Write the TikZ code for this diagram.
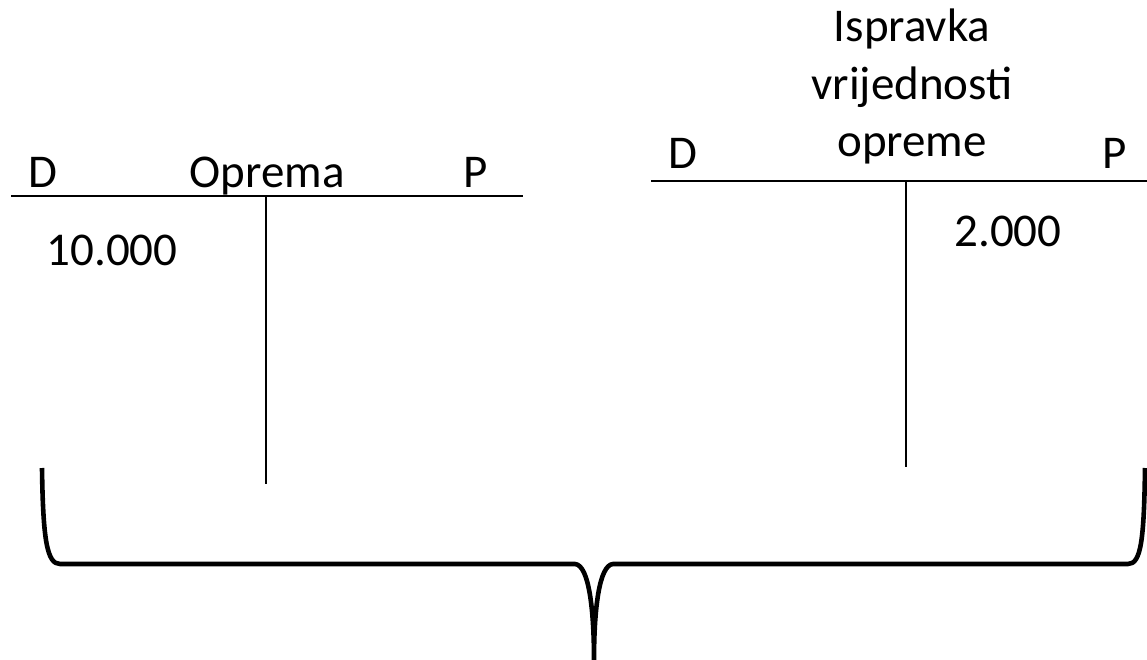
\documentclass[tikz,border=0pt]{standalone}
\usepackage{fontspec}
\setmainfont{Carlito}
\begin{document}
\begin{tikzpicture}[x=1pt,y=-1pt,
  lbl/.style={inner sep=0pt,anchor=base,font=\fontsize{47}{57.5}\selectfont},
  tline/.style={line width=2.2pt},
  brace/.style={line width=4.6pt,line join=round}]
\useasboundingbox (0,0) rectangle (1147,660);
% left T-account
\coordinate (lA) at (11,196);
\coordinate (lB) at (523,196);
\coordinate (lC) at (266,196);
\coordinate (lE) at (266,484);
\draw[tline] (lA) -- (lB);
\draw[tline] (lC) -- (lE);
\node[lbl] (lD) at (43,188) {D};
\node[lbl] (lT) at (267,188) {Oprema};
\node[lbl] (lP) at (476,188) {P};
\node[lbl] (lV) at (112,265) {10.000};
% right T-account
\coordinate (rA) at (651,181);
\coordinate (rB) at (1147,181);
\coordinate (rC) at (906,181);
\coordinate (rE) at (906,467);
\draw[tline] (rA) -- (rB);
\draw[tline] (rC) -- (rE);
\node[lbl] (rD) at (683,169) {D};
\node[lbl,align=center] (rT) at (912,157) {Ispravka\\vrijednosti\\opreme};
\node[lbl] (rP) at (1115,169) {P};
\node[lbl] (rV) at (1008,247) {2.000};
% brace
\draw[brace] (42,468) .. controls (43,540) and (47,564) .. (60,564)
  -- (575,564) .. controls (589,565) and (594,610) .. (594,660)
  .. controls (594,610) and (599,565) .. (613,564)
  -- (1128,564) .. controls (1141,564) and (1144,540) .. (1145,468);
\end{tikzpicture}
\end{document}
